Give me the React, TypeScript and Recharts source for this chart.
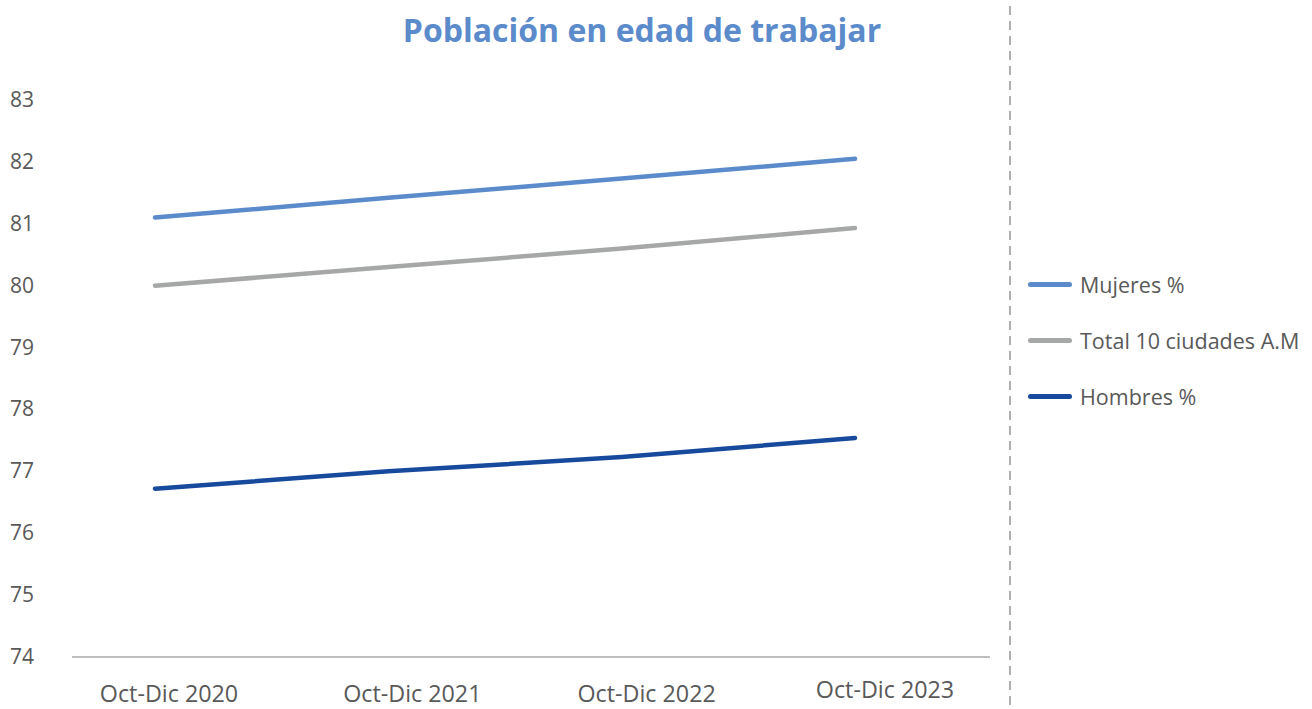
import React from 'react';
import { LineChart, Line, XAxis, YAxis } from 'recharts';

const periods = ['Oct-Dic 2020', 'Oct-Dic 2021', 'Oct-Dic 2022', 'Oct-Dic 2023'];
const mujeres = [81.1, 81.42, 81.73, 82.05];
const total = [80.0, 80.3, 80.6, 80.93];
const hombres = [76.72, 77.0, 77.23, 77.54];
const yTicks = [74, 75, 76, 77, 78, 79, 80, 81, 82, 83];

const series = [
  { key: 'mujeres', name: 'Mujeres %', color: '#5b8bcb' },
  { key: 'total', name: 'Total 10 ciudades A.M', color: '#a6a8a8' },
  { key: 'hombres', name: 'Hombres %', color: '#17499d' },
];

const data = periods.map((p, i) => ({
  period: p,
  mujeres: mujeres[i],
  total: total[i],
  hombres: hombres[i],
}));

const FONT = '"Open Sans", sans-serif';
const TEXT = '#595959';

const YTick = ({ y, payload }: any) => (
  <text x={10} y={y} dy={7} textAnchor="start" fontSize={21} fill={TEXT} fontFamily={FONT}>
    {payload.value}
  </text>
);

// labels in the original sit a little right of their points, drifting further right
const labelShift = [14, 24, 25, 30];

const XTick = ({ x, y, payload, index }: any) => (
  <text
    x={x + labelShift[index]}
    y={y}
    dy={index === 3 ? 33 : 37}
    textAnchor="middle"
    fontSize={23.3}
    fill={TEXT}
    fontFamily={FONT}
  >
    {payload.value}
  </text>
);

// legend drawn beside the chart (right of the dashed divider)
const LegendBox = () => (
  <div style={{ position: 'absolute', left: 1028, top: 256, fontFamily: FONT }}>
    {series.map((s) => (
      <div key={s.key} style={{ display: 'flex', alignItems: 'center', height: 56 }}>
        <div style={{ width: 44, height: 5, borderRadius: 3, background: s.color, marginRight: 8 }} />
        <span style={{ fontSize: 21.5, color: TEXT, whiteSpace: 'nowrap' }}>{s.name}</span>
      </div>
    ))}
  </div>
);

const App = () => {
  return (
    <div style={{ position: 'absolute', left: 0, top: 0, width: 1312, height: 709, background: '#fff' }}>
      <div
        style={{
          position: 'absolute',
          left: 0,
          width: 1284,
          top: 8,
          textAlign: 'center',
          fontFamily: FONT,
          fontWeight: 700,
          fontSize: 32,
          color: '#5b8bcb',
        }}
      >
        Población en edad de trabajar
      </div>
      <svg style={{ position: 'absolute', left: 0, top: 0 }} width={1312} height={709}>
        <line x1={1010} x2={1010} y1={6} y2={709} stroke="#b0b0b0" strokeWidth={2} strokeDasharray="9 6" />
      </svg>
      <div style={{ position: 'absolute', left: 0, top: 0 }}>
        <LineChart width={1312} height={709} data={data} margin={{ top: 100, right: 322, bottom: 0, left: 0 }}>
          <XAxis
            dataKey="period"
            padding={{ left: 83, right: 135 }}
            axisLine={{ stroke: '#bfbfbf', strokeWidth: 2 }}
            tickLine={false}
            tick={<XTick />}
            interval={0}
            height={52}
          />
          <YAxis
            domain={[74, 83]}
            ticks={yTicks}
            width={72}
            axisLine={false}
            tickLine={false}
            tick={<YTick />}
            interval={0}
          />
          {series.map((s) => (
            <Line
              key={s.key}
              type="linear"
              dataKey={s.key}
              name={s.name}
              stroke={s.color}
              strokeWidth={4.5}
              strokeLinecap="round"
              dot={false}
              activeDot={false}
              isAnimationActive={false}
            />
          ))}
        </LineChart>
      </div>
      <LegendBox />
    </div>
  );
};

export default App;
